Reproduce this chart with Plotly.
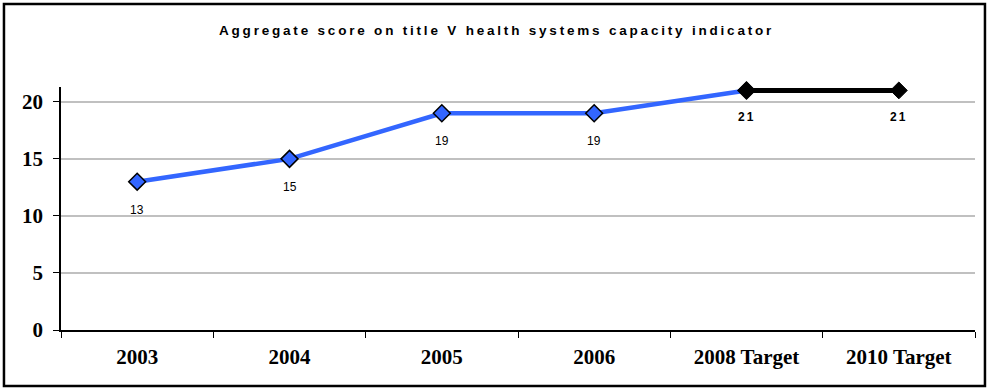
import plotly.graph_objects as go

categories = ["2003", "2004", "2005", "2006", "2008 Target", "2010 Target"]
actual = [13, 15, 19, 19, 21, None]
target = [None, None, None, None, 21, 21]
actual_labels = ["13", "15", "19", "19", "", ""]
target_labels = ["", "", "", "", "21", "21"]
y_ticks = [0, 5, 10, 15, 20]

tx = [c for c, v in zip(categories, target) if v is not None]
ty = [v for v in target if v is not None]

fig = go.Figure()
fig.add_trace(go.Scatter(
    x=categories, y=actual, mode="lines+markers", cliponaxis=False,
    line=dict(color="#3366ff", width=4.5),
    marker=dict(symbol="diamond", size=13, color="#3366ff", line=dict(color="black", width=1.5)),
    showlegend=False))
fig.add_trace(go.Scatter(
    x=tx, y=ty, mode="lines", cliponaxis=False,
    line=dict(color="black", width=5),
    showlegend=False))
fig.add_trace(go.Scatter(
    x=tx, y=ty, mode="markers", cliponaxis=False,
    marker=dict(symbol="diamond", size=13, color="black", line=dict(color="black", width=1)),
    showlegend=False))

annotations = []
for i, (v, t) in enumerate(zip(actual, actual_labels)):
    if t:
        annotations.append(dict(x=i, y=v, text=t, showarrow=False, yshift=-28,
                                font=dict(family="Liberation Sans", size=12, color="black")))
for i, (v, t) in enumerate(zip(target, target_labels)):
    if t:
        annotations.append(dict(x=i, y=v, text='<span style="letter-spacing:2px"><b>' + t + '</b></span>',
                                showarrow=False, yshift=-27,
                                font=dict(family="Liberation Sans", size=12, color="black")))
annotations.append(dict(
    xref="paper", yref="paper", x=0.476, y=1.0, yanchor="middle", yshift=57, showarrow=False,
    text='<span style="letter-spacing:2.8px"><b>Aggregate score on title V health systems capacity indicator</b></span>',
    font=dict(family="Liberation Sans", size=13.5, color="black")))

fig.update_layout(
    width=989, height=389,
    margin=dict(l=61, r=14, t=87, b=59),
    paper_bgcolor="white", plot_bgcolor="white",
    annotations=annotations,
    shapes=[dict(type="rect", xref="paper", yref="paper", x0=-0.0624, x1=1.0109, y0=-0.2305, y1=1.3416,
                 line=dict(color="black", width=2.5))],
    xaxis=dict(type="category", range=[-0.5, 5.5], tickson="boundaries", ticks="outside", ticklen=6,
               tickcolor="black", showline=True, linecolor="black", linewidth=1.5, showgrid=False,
               ticklabelstandoff=7,
               tickfont=dict(family="Liberation Serif", size=21, color="black", weight="bold")),
    yaxis=dict(range=[0, 21.3], tickvals=y_ticks, ticks="outside", ticklen=6, tickcolor="black",
               showline=True, linecolor="black", linewidth=1.5, showgrid=True, gridcolor="#c0c0c0",
               gridwidth=1.5, zeroline=False, ticklabelstandoff=6,
               tickfont=dict(family="Liberation Serif", size=21, color="black", weight="bold")),
)
fig.write_html("out.html", config={"displayModeBar": False},
               post_script="document.body.style.margin='0';")
